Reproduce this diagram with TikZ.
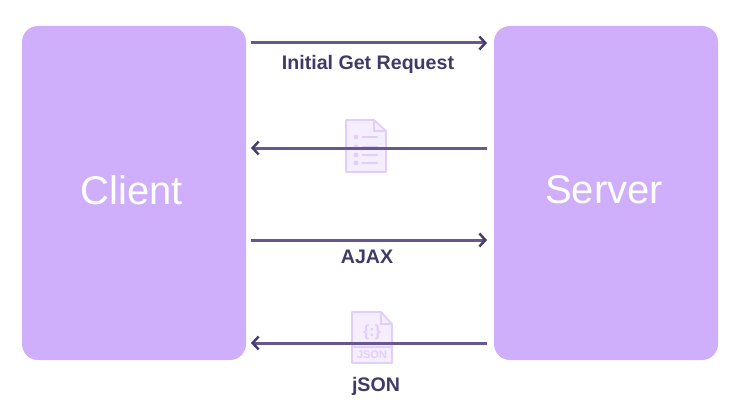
\documentclass[tikz,border=0pt]{standalone}
\usepackage{fontspec}
\setmainfont{Liberation Sans}
\usetikzlibrary{arrows.meta}
\definecolor{boxpurple}{HTML}{CFAEFB}
\definecolor{arrowpurple}{HTML}{66588E}
\definecolor{tippurple}{HTML}{453A6E}
\definecolor{labelpurple}{HTML}{3F3A68}
\definecolor{iconfill}{HTML}{F5EEFE}
\definecolor{iconline}{HTML}{E2CEFC}

\begin{document}
\begin{tikzpicture}[x=1pt, y=-1pt]

                \tikzstyle{party}  = [draw=none, fill=boxpurple, rounded corners=16pt, minimum width=224pt, minimum height=334pt, inner sep=0pt, text=white]
                \tikzstyle{partytext} = [text=white, inner sep=0pt, font=\fontsize{40}{40}\selectfont]
                \tikzstyle{msg}    = [-{Straight Barb[length=6pt, width=13pt, line width=2.4pt, color=tippurple]}, line width=3pt, draw=arrowpurple]
                \tikzstyle{lab}    = [text=labelpurple, inner sep=0pt, font=\fontsize{19.6}{19.6}\selectfont\bfseries]
                \tikzstyle{icon}   = [draw=iconline, fill=iconfill, line width=1.8pt, line join=round]
                \tikzstyle{iconin} = [draw=iconline, line width=1.8pt]

                \useasboundingbox (0,0) rectangle (738,412);

                \node [party](client) at (134,193) {};
                \node [party](server) at (606,193) {};
                \node [partytext](clientname) at (132,190) {Client};
                \node [partytext](servername) at (604,190) {Server};

                % list icon
                \draw [icon] (346,120) -- (374,120) -- (386,131) -- (386,172) -- (346,172) -- cycle;
                \draw [iconin] (374,120) -- (374,131) -- (386,131);
                \foreach \y in {137, 147, 155, 163}
                {
                        \fill [iconline] (356,\y) circle (2.4pt);
                        \draw [iconin] (362,\y) -- (378,\y);
                }

                % json icon
                \draw [icon] (352,312) -- (381,312) -- (392,324) -- (392,363) -- (352,363) -- cycle;
                \draw [iconin] (381,312) -- (381,324) -- (392,324);
                \draw [iconin] (352,347) -- (392,347);
                \node [text=iconline, inner sep=0pt, font=\fontsize{16}{16}\selectfont\bfseries](braces) at (372,332) {\{:\}};
                \node [text=iconline, inner sep=0pt, font=\fontsize{11}{11}\selectfont\bfseries](jsontag) at (372,355) {JSON};

                \foreach \n/\y in {a/43, b/148, c/240, d/343}
                {
                        \coordinate (l\n) at (251,\y);
                        \coordinate (r\n) at (487,\y);
                }

                \draw [msg] (la) -- (ra);
                \draw [msg] (rb) -- (lb);
                \draw [msg] (lc) -- (rc);
                \draw [msg] (rd) -- (ld);

                \node [lab](initial) at (368,64) {Initial Get Request};
                \node [lab](ajax) at (367,257) {AJAX};
                \node [lab](json) at (376,386) {jSON};
\end{tikzpicture}
\end{document}
